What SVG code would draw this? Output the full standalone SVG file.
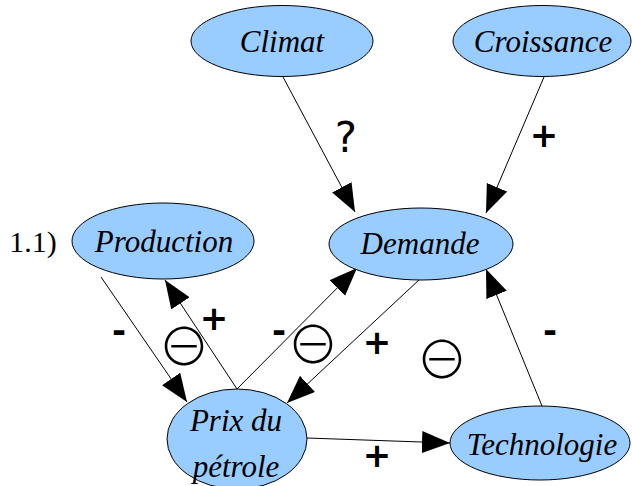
<svg xmlns="http://www.w3.org/2000/svg" width="632" height="486" viewBox="0 0 632 486">
<defs>
<marker id="arr" markerUnits="userSpaceOnUse" markerWidth="30" markerHeight="24" refX="28" refY="11" orient="auto">
<path d="M0,0 L28,11 L0,22 z" fill="#000"/>
</marker>
<style>
.node ellipse{fill:#99ccff;stroke:#000;stroke-width:1}
.node text{font-family:"Liberation Serif",serif;font-style:italic;font-size:31px;text-anchor:middle;fill:#000}
.conn line{stroke:#000;stroke-width:1;marker-end:url(#arr)}
.sign{font-family:"DejaVu Sans",sans-serif;font-weight:bold;font-size:34px;text-anchor:middle;fill:#000}
.q{font-family:"DejaVu Sans",sans-serif;font-size:42px;text-anchor:middle;fill:#000}
.circ{font-family:"Noto Sans CJK JP","DejaVu Sans",sans-serif;font-weight:300;font-size:52px;text-anchor:middle;fill:#000}
</style>
</defs>
<rect width="632" height="486" fill="#fff"/>
<g id="connectors" class="conn">
<line x1="283" y1="77" x2="355" y2="212"/>
<line x1="544" y1="77" x2="486" y2="213"/>
<line x1="101" y1="277" x2="187" y2="402"/>
<line x1="237" y1="389" x2="165" y2="280"/>
<line x1="237" y1="389" x2="357" y2="268"/>
<line x1="420" y1="279" x2="287" y2="403"/>
<line x1="542" y1="406" x2="486" y2="269"/>
<line x1="307" y1="438" x2="450" y2="443"/>
</g>
<g id="node-climat" class="node"><ellipse cx="282" cy="41" rx="91" ry="35.5"/><text x="282" y="52">Climat</text></g>
<g id="node-croissance" class="node"><ellipse cx="542" cy="41" rx="89" ry="35.5"/><text x="543" y="52">Croissance</text></g>
<g id="node-production" class="node"><ellipse cx="163" cy="241" rx="91" ry="38"/><text x="164" y="252">Production</text></g>
<g id="node-demande" class="node"><ellipse cx="421" cy="244" rx="92" ry="36"/><text x="420" y="254">Demande</text></g>
<g id="node-prix" class="node"><ellipse cx="237" cy="439" rx="70" ry="50"/><text x="236" y="431">Prix du</text><text x="236" y="477">pétrole</text></g>
<g id="node-technologie" class="node"><ellipse cx="540" cy="443" rx="90" ry="37"/><text x="542" y="455">Technologie</text></g>
<g id="labels">
<text x="33" y="252" style="font-family:'Liberation Serif',serif;font-size:30px;text-anchor:middle">1.1)</text>
<text class="q" x="346" y="152">?</text>
<text class="sign" x="544" y="147">+</text>
<text class="sign" x="119" y="342">-</text>
<text class="sign" x="214" y="330">+</text>
<text class="sign" x="279" y="342">-</text>
<text class="sign" x="377" y="354">+</text>
<text class="sign" x="550" y="342">-</text>
<text class="sign" x="377" y="467">+</text>
<text class="circ" x="184" y="366">⊖</text>
<text class="circ" x="313" y="364">⊖</text>
<text class="circ" x="442" y="379">⊖</text>
</g>
</svg>
